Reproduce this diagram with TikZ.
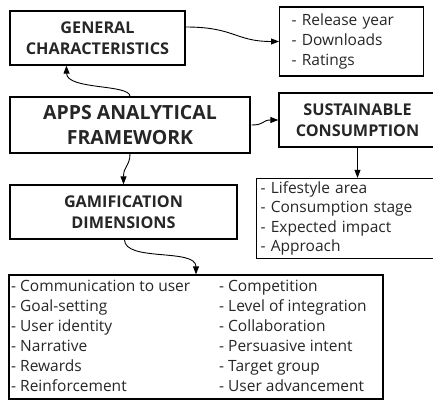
\documentclass[tikz,border=0pt]{standalone}
\usepackage{fontspec}
\setmainfont{Open Sans}
\usetikzlibrary{arrows.meta,calc}
\begin{document}
\begin{tikzpicture}[x=1pt,y=-1pt,
  box/.style={draw, line width=1.3pt, inner sep=0pt},
  head/.style={font=\bfseries\fontsize{16.2}{21}\selectfont, align=center, text=black!85},
  bighead/.style={font=\bfseries\fontsize{19.5}{25}\selectfont, align=center, text=black!85},
  item/.style={font=\fontsize{15.5}{20}\selectfont, align=left, text=black!85},
  conn/.style={line width=0.9pt, -{Triangle[length=8pt,width=6pt]}}]
\useasboundingbox (0,0) rectangle (433,401);
\node[box, head, minimum width=175pt, minimum height=54pt] (gc) at (97.5,38) {GENERAL\\CHARACTERISTICS};
\node[box, item, minimum width=141pt, minimum height=69pt, text width=120pt, inner xsep=12pt, anchor=west] (rel) at (279,41.5) {- Release year\\- Downloads\\- Ratings};
\node[box, bighead, minimum width=240pt, minimum height=56pt] (app) at (130,125) {APPS ANALYTICAL\\FRAMEWORK};
\node[box, head, minimum width=157pt, minimum height=54pt] (sus) at (357.5,120) {SUSTAINABLE\\CONSUMPTION};
\node[box, head, minimum width=227pt, minimum height=54pt] (gam) at (123.5,212) {GAMIFICATION\\DIMENSIONS};
\node[box, item, font=\fontsize{15.5}{19.5}\selectfont, minimum width=180pt, minimum height=80pt, text width=172pt, inner xsep=4pt, anchor=west] (life) at (256,218.5) {- Lifestyle area\\- Consumption stage\\- Expected impact\\- Approach};
\node[box, minimum width=374pt, minimum height=124pt] (bot) at (196,337) {};
\node[item, anchor=west, inner sep=0pt] (colA) at (11,336) {- Communication to user\\- Goal-setting\\- User identity\\- Narrative\\- Rewards\\- Reinforcement};
\node[item, anchor=west, inner sep=0pt] (colB) at (219,336) {- Competition\\- Level of integration\\- Collaboration\\- Persuasive intent\\- Target group\\- User advancement};
\draw[conn] ($(gc.east)+(0,-11)$) .. controls (235,27) and (235,41.5) .. (rel.west);
\draw[conn] (app.north) .. controls (130,84) and (67,90) .. ($(gc.south west)+(57,0)$);
\draw[conn] ($(app.east)+(1,0)$) .. controls (265,125) and (262,120) .. (sus.west);
\draw[conn] (app.south) .. controls (130,166) and (123.5,166) .. (gam.north);
\draw[conn] (sus.south) -- ($(life.north west)+(101.5,0)$);
\draw[conn] ($(gam.south)+(1,0)$) .. controls (124.5,262) and (196,248) .. (bot.north);
\end{tikzpicture}
\end{document}
